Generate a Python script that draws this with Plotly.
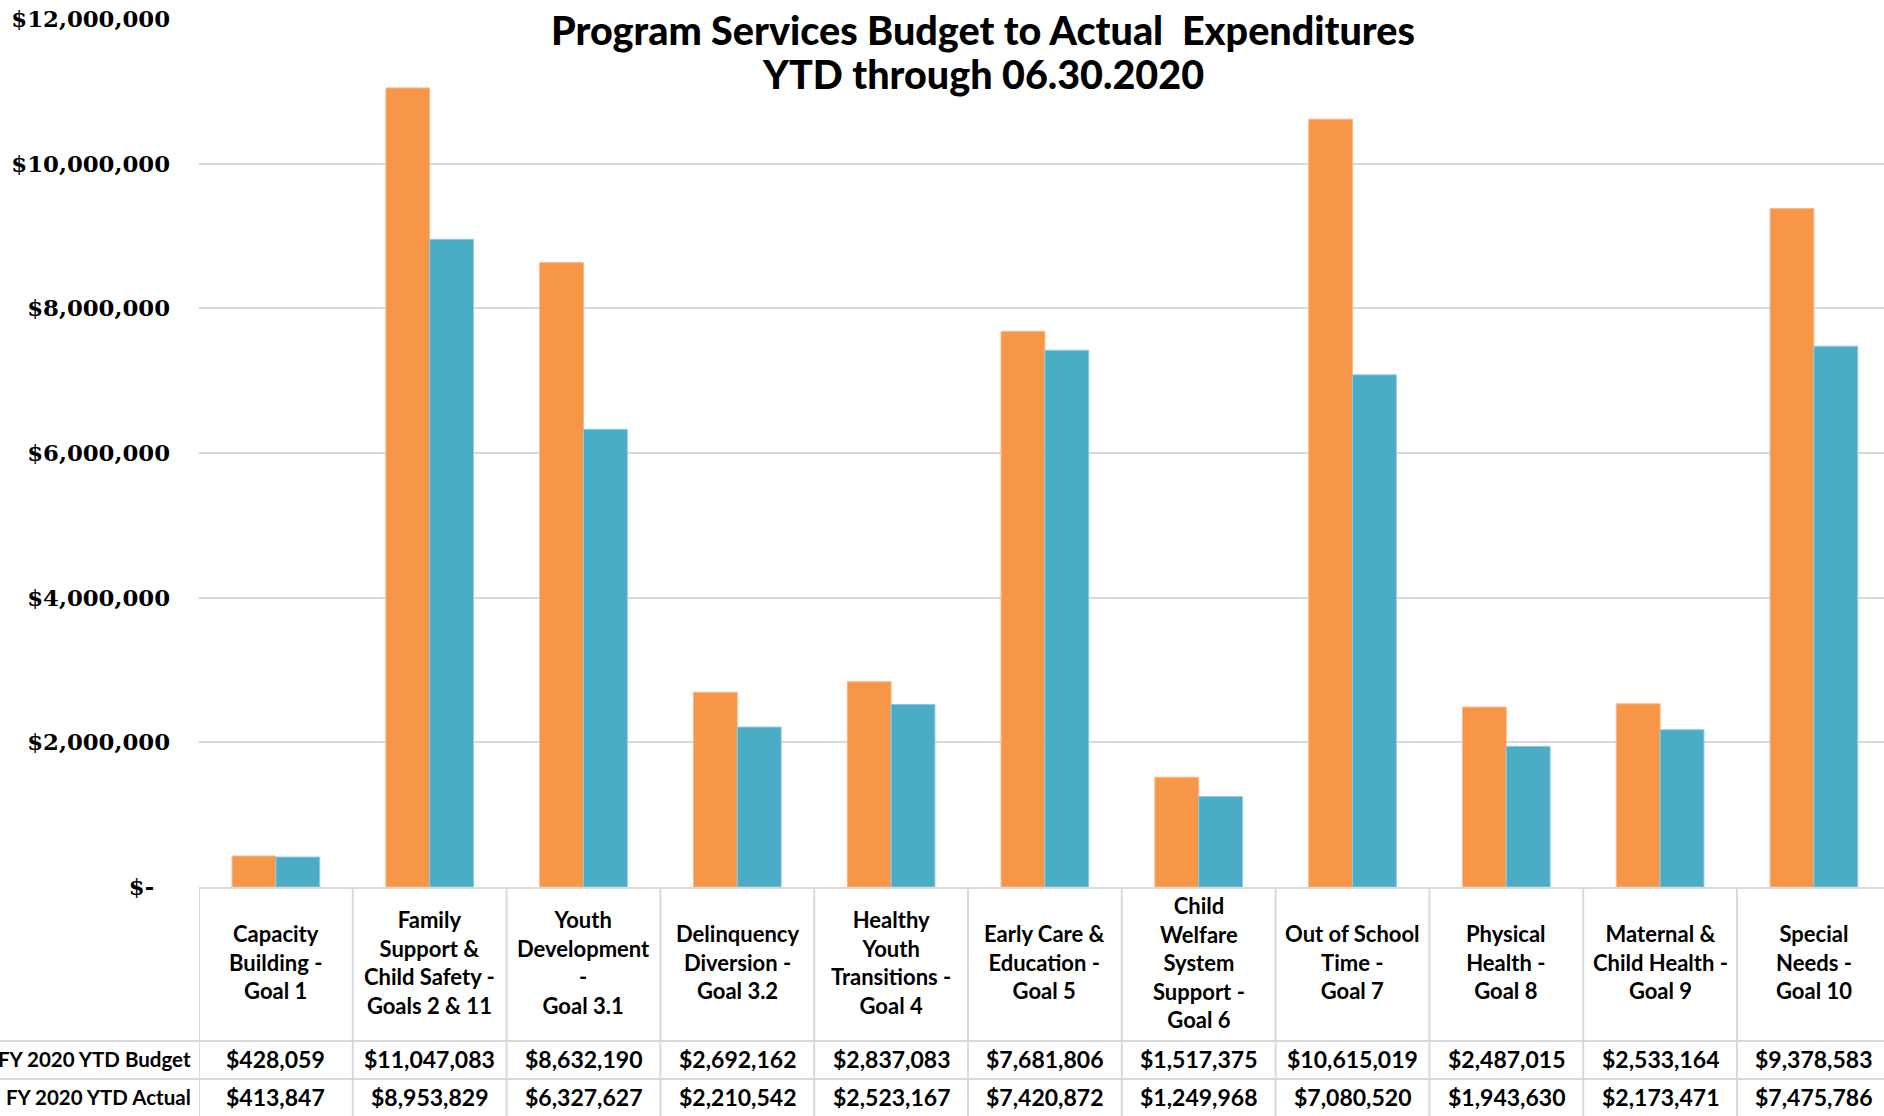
import plotly.graph_objects as go

categories = [
    "Capacity<br>Building -<br>Goal 1",
    "Family<br>Support &<br>Child Safety -<br>Goals 2 & 11",
    "Youth<br>Development<br>-<br>Goal 3.1",
    "Delinquency<br>Diversion -<br>Goal 3.2",
    "Healthy<br>Youth<br>Transitions -<br>Goal 4",
    "Early Care &<br>Education -<br>Goal 5",
    "Child<br>Welfare<br>System<br>Support -<br>Goal 6",
    "Out of School<br>Time -<br>Goal 7",
    "Physical<br>Health -<br>Goal 8",
    "Maternal &<br>Child Health -<br>Goal 9",
    "Special<br>Needs -<br>Goal 10",
]
budget = [428059, 11047083, 8632190, 2692162, 2837083, 7681806, 1517375,
          10615019, 2487015, 2533164, 9378583]
actual = [413847, 8953829, 6327627, 2210542, 2523167, 7420872, 1249968,
          7080520, 1943630, 2173471, 7475786]
series_names = ["FY 2020 YTD Budget", "FY 2020 YTD Actual"]
tick_vals = [0, 2000000, 4000000, 6000000, 8000000, 10000000, 12000000]
tick_text = ["$-\u00a0\u00a0", "$2,000,000", "$4,000,000", "$6,000,000",
             "$8,000,000", "$10,000,000", "$12,000,000"]
title_lines = ["Program Services Budget to Actual\u00a0 Expenditures",
               "YTD through 06.30.2020"]

ORANGE = "#F79646"
BLUE = "#4BACC6"
GRID = "#D9D9D9"

W, H = 1884, 1116
L, T, B = 199, 19, 229
plot_h = H - T - B
plot_w = W - L
cat_w = 153.8
x_hi = -0.5 + plot_w / cat_w

idx = list(range(len(categories)))

fig = go.Figure()
fig.add_trace(go.Bar(x=idx, y=budget, name=series_names[0],
                     marker=dict(color=ORANGE, line=dict(color="#FAB98A", width=1))))
fig.add_trace(go.Bar(x=idx, y=actual, name=series_names[1],
                     marker=dict(color=BLUE, line=dict(color="#8CCBDC", width=1))))

def py(pix):
    # pixel y (from top) -> paper y
    return (H - B - pix) / plot_h

def px(pix):
    return (pix - L) / plot_w

annotations = []
shapes = []
hdr_font = dict(family="Lato", size=22, color="black")
val_font = dict(family="Lato", size=23, color="black")
lbl_font = dict(family="Lato", size=20.5, color="black")

for i, c in enumerate(categories):
    annotations.append(dict(x=i, y=py(962), xref="x", yref="paper", text="<b>%s</b>" % c,
                            showarrow=False, xanchor="center", yanchor="middle",
                            align="center", font=hdr_font))
    annotations.append(dict(x=i, y=py(1059), xref="x", yref="paper",
                            text="<b>${:,}</b>".format(budget[i]), showarrow=False,
                            xanchor="center", yanchor="middle", font=val_font))
    annotations.append(dict(x=i, y=py(1097), xref="x", yref="paper",
                            text="<b>${:,}</b>".format(actual[i]), showarrow=False,
                            xanchor="center", yanchor="middle", font=val_font))

annotations.append(dict(x=px(193), y=py(1059), xref="paper", yref="paper",
                        text="<b>%s</b>" % series_names[0], showarrow=False,
                        xanchor="right", yanchor="middle", font=lbl_font))
annotations.append(dict(x=px(193), y=py(1097), xref="paper", yref="paper",
                        text="<b>%s</b>" % series_names[1], showarrow=False,
                        xanchor="right", yanchor="middle", font=lbl_font))

title_font = dict(family="Lato", size=39.5, color="black", weight=900)
for line, ypix in zip(title_lines, [29, 73]):
    annotations.append(dict(x=px(983), y=py(ypix), xref="paper", yref="paper",
                            text=line, showarrow=False,
                            xanchor="center", yanchor="middle", align="center",
                            font=title_font))

for k in range(len(categories) + 1):
    shapes.append(dict(type="line", xref="x", yref="paper", x0=k - 0.5, x1=k - 0.5,
                       y0=0, y1=py(H + 5), line=dict(color=GRID, width=2)))
for yy in [1041, 1079]:
    shapes.append(dict(type="line", xref="paper", yref="paper", x0=px(0), x1=px(W + 5),
                       y0=py(yy), y1=py(yy), line=dict(color=GRID, width=2)))

fig.update_layout(
    width=W, height=H,
    margin=dict(l=L, r=0, t=T, b=B, pad=0),
    paper_bgcolor="white", plot_bgcolor="white",
    barmode="group", bargap=0.43, bargroupgap=0,
    showlegend=False,
    annotations=annotations, shapes=shapes,
    xaxis=dict(type="linear", range=[-0.5, x_hi], showticklabels=False, showgrid=False,
               zeroline=False, showline=True, linecolor=GRID, linewidth=2, ticks=""),
    yaxis=dict(range=[0, 12000000], tickvals=tick_vals, ticktext=tick_text,
               showgrid=True, gridcolor=GRID, gridwidth=2, zeroline=False,
               showline=False, ticks="", ticklabelstandoff=28,
               tickfont=dict(family="DejaVu Serif", size=22.8, color="black",
                             weight="bold")),
)

fig.write_html("out.html")
